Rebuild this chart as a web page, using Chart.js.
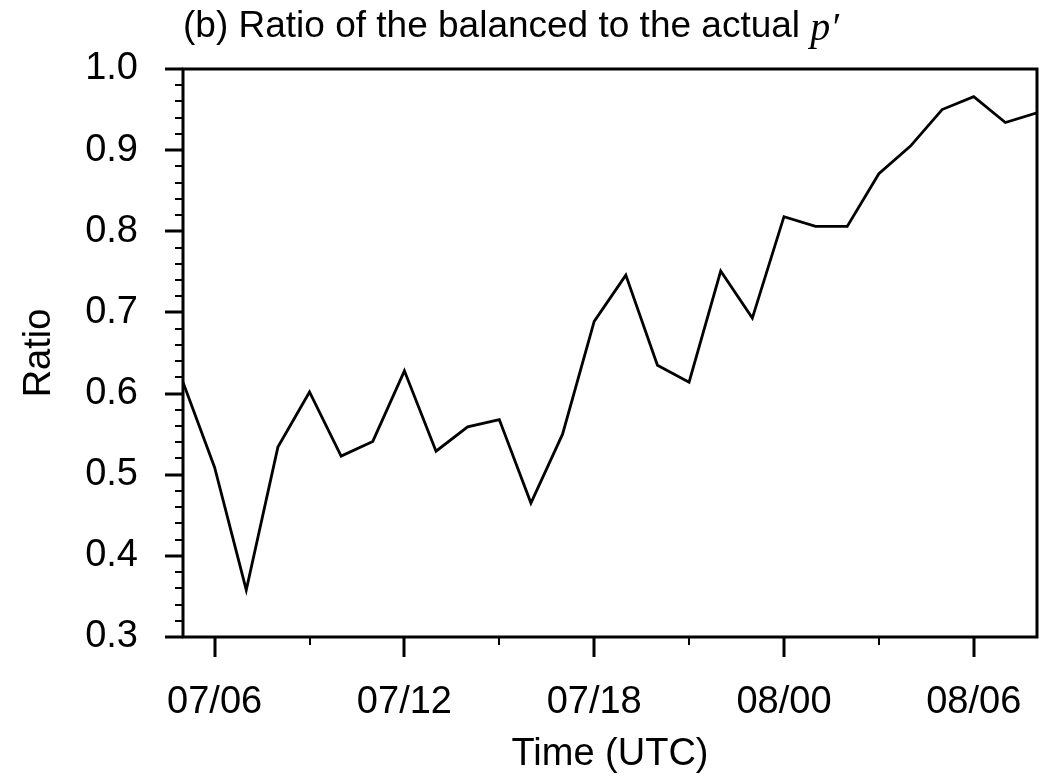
<!DOCTYPE html>
<html>
<head>
<meta charset="utf-8">
<script src="https://cdn.jsdelivr.net/npm/chart.js@4.4.1/dist/chart.umd.min.js"></script>
<style>
html,body{margin:0;padding:0;background:#fff;}
#wrap{width:1051px;height:778px;position:relative;}
</style>
</head>
<body>
<div id="wrap"><canvas id="c" width="1051" height="778"></canvas></div>
<script>
// Hours counted from 07 00 UTC (07/05 = 5 ... 08/08 = 32)
const hours = [5,6,7,8,9,10,11,12,13,14,15,16,17,18,19,20,21,22,23,24,25,26,27,28,29,30,31,32];
const ratio = [0.614,0.509,0.358,0.534,0.602,0.523,0.541,0.628,0.529,0.559,0.568,0.465,0.550,0.689,
               0.746,0.635,0.614,0.751,0.693,0.818,0.806,0.806,0.871,0.905,0.950,0.966,0.934,0.946];
const xTickHours = [6,12,18,24,30];
const xTickLabels = ['07/06','07/12','07/18','08/00','08/06'];
const xMinorHours = [9,15,21,27];
const yTicks = [0.3,0.4,0.5,0.6,0.7,0.8,0.9,1.0];
const titleMain = '(b) Ratio of the balanced to the actual ';
const titleVar = 'p\u2032';
const xTitle = 'Time (UTC)';
const yTitle = 'Ratio';

const FONT = '"Liberation Sans", Arial, Helvetica, sans-serif';

const framePlugin = {
  id: 'frameTicks',
  afterDatasetsDraw(chart) {
    const {ctx, chartArea: a, scales: {x, y}} = chart;
    ctx.save();
    ctx.strokeStyle = '#000';
    ctx.lineCap = 'butt';
    // minor ticks
    ctx.lineWidth = 2;
    ctx.beginPath();
    for (let i = 0; i < yTicks.length - 1; i++) {
      for (let k = 1; k < 5; k++) {
        const v = yTicks[i] + (yTicks[i + 1] - yTicks[i]) * k / 5;
        const py = Math.round(y.getPixelForValue(v));
        ctx.moveTo(a.left - 8, py); ctx.lineTo(a.left, py);
      }
    }
    xMinorHours.forEach(h => {
      const px = Math.round(x.getPixelForValue(h));
      ctx.moveTo(px, a.bottom); ctx.lineTo(px, a.bottom + 8);
    });
    ctx.stroke();
    // major ticks
    ctx.lineWidth = 3;
    ctx.beginPath();
    yTicks.forEach(v => {
      const py = Math.round(y.getPixelForValue(v));
      ctx.moveTo(a.left - 18, py); ctx.lineTo(a.left, py);
    });
    xTickHours.forEach(h => {
      const px = Math.round(x.getPixelForValue(h));
      ctx.moveTo(px, a.bottom); ctx.lineTo(px, a.bottom + 20);
    });
    ctx.stroke();
    // frame
    ctx.lineWidth = 3;
    ctx.strokeRect(a.left, a.top, a.right - a.left, a.bottom - a.top);
    ctx.restore();
  }
};

const titlePlugin = {
  id: 'mixedTitle',
  afterDraw(chart) {
    const ctx = chart.ctx;
    ctx.save();
    ctx.fillStyle = '#000';
    ctx.textBaseline = 'middle';
    ctx.textAlign = 'left';
    ctx.font = '37px ' + FONT;
    const x0 = 183, y0 = 27;
    ctx.fillText(titleMain, x0, y0);
    const w = ctx.measureText(titleMain).width;
    ctx.font = 'italic 40px "Liberation Serif", "DejaVu Serif", serif';
    ctx.fillText(titleVar, x0 + w, y0 + 2);
    ctx.restore();
  }
};

new Chart(document.getElementById('c'), {
  type: 'line',
  data: {
    datasets: [{
      data: hours.map((h, i) => ({x: h, y: ratio[i]})),
      borderColor: '#000',
      borderWidth: 2.8,
      pointRadius: 0,
      tension: 0,
      fill: false
    }]
  },
  options: {
    responsive: false,
    animation: false,
    devicePixelRatio: 1,
    layout: {padding: {left: 17, right: 14, top: 69, bottom: 1}},
    plugins: {legend: {display: false}, tooltip: {enabled: false}, title: {display: false}},
    scales: {
      x: {
        type: 'linear',
        min: 5, max: 32,
        afterBuildTicks: s => { s.ticks = xTickHours.map(v => ({value: v})); },
        afterFit: s => { s.height = 140; s.paddingLeft = 0; s.paddingRight = 0; },
        grid: {display: false, drawTicks: false},
        border: {display: false},
        ticks: {
          autoSkip: false, maxRotation: 0, padding: 43, color: '#000',
          font: {family: FONT, size: 38},
          callback: v => xTickLabels[xTickHours.indexOf(v)]
        },
        title: {display: true, text: xTitle, color: '#000', font: {family: FONT, size: 38}, padding: {top: 0, bottom: 0}}
      },
      y: {
        type: 'linear',
        min: 0.3, max: 1.0,
        afterBuildTicks: s => { s.ticks = yTicks.map(v => ({value: v})); },
        afterFit: s => { s.width = 166; s.paddingTop = 0; s.paddingBottom = 0; },
        grid: {display: false, drawTicks: false},
        border: {display: false},
        ticks: {
          padding: 45, color: '#000',
          font: {family: FONT, size: 38},
          callback: v => Number(v).toFixed(1)
        },
        title: {display: true, text: yTitle, color: '#000', font: {family: FONT, size: 38}, padding: {top: 0, bottom: 0}}
      }
    }
  },
  plugins: [framePlugin, titlePlugin]
});
</script>
</body>
</html>
